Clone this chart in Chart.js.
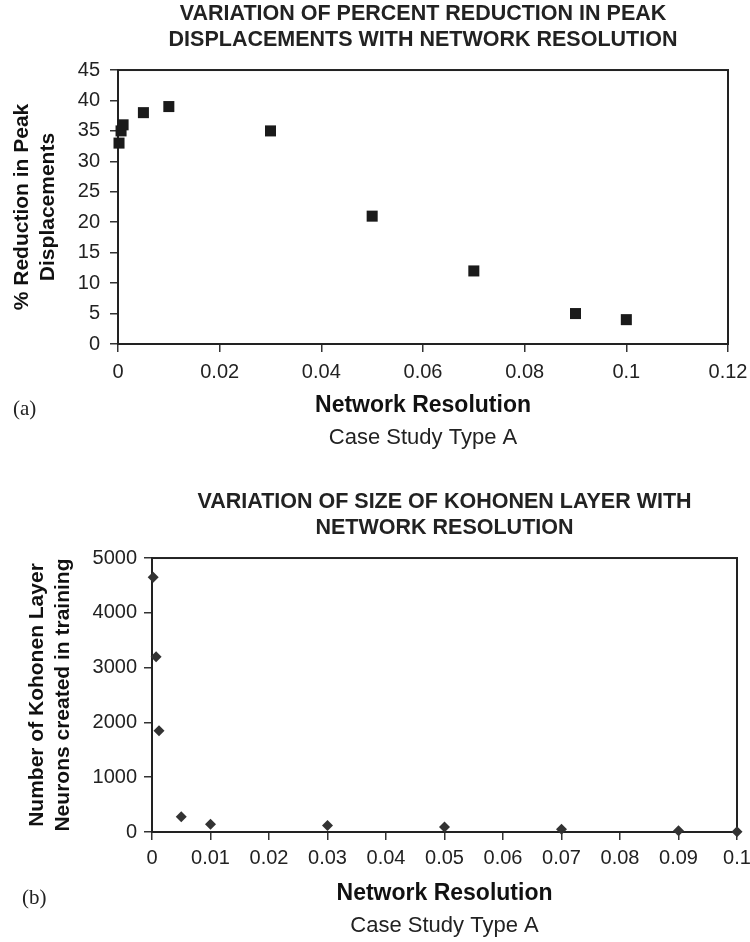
<!DOCTYPE html>
<html>
<head>
<meta charset="utf-8">
<script src="https://cdn.jsdelivr.net/npm/chart.js@4.4.1/dist/chart.umd.min.js"></script>
<style>
  body { margin: 0; background: #fff; width: 750px; height: 942px; position: relative; overflow: hidden; }
  canvas { position: absolute; left: 0; }
  .tag { position: absolute; font-family: 'Liberation Serif', serif; font-size: 21px; line-height: 24px; color: #222; }
</style>
</head>
<body>
<canvas id="chartA" width="750" height="470" style="top:0"></canvas>
<canvas id="chartB" width="750" height="472" style="top:470px"></canvas>
<div class="tag" style="left:13px;top:396px">(a)</div>
<div class="tag" style="left:22px;top:885px">(b)</div>
<script>
// (a) percent reduction vs network resolution
const resolutionA = [0.0002, 0.0006, 0.001, 0.005, 0.01, 0.03, 0.05, 0.07, 0.09, 0.1];
const reductionPct = [33, 35, 36, 38, 39, 35, 21, 12, 5, 4];
const xTicksA = [0, 0.02, 0.04, 0.06, 0.08, 0.1, 0.12];
const yTicksA = [0, 5, 10, 15, 20, 25, 30, 35, 40, 45];

// (b) kohonen layer size vs network resolution
const resolutionB = [0.0002, 0.0007, 0.0012, 0.005, 0.01, 0.03, 0.05, 0.07, 0.09, 0.1];
const kohonenNeurons = [4650, 3200, 1850, 280, 140, 120, 90, 50, 25, 5];
const xTicksB = [0, 0.01, 0.02, 0.03, 0.04, 0.05, 0.06, 0.07, 0.08, 0.09, 0.1];
const yTicksB = [0, 1000, 2000, 3000, 4000, 5000];

const FONT = "'Liberation Sans', Arial, sans-serif";
const INK = '#222';

// box around the plot area (top and right sides too)
const frame = {
  id: 'frame',
  beforeDatasetsDraw(chart) {
    const { ctx, chartArea: a } = chart;
    ctx.save();
    ctx.strokeStyle = INK;
    ctx.lineWidth = 2;
    ctx.strokeRect(a.left, a.top, a.right - a.left, a.bottom - a.top);
    ctx.restore();
  }
};

function buildChart(id, cfg) {
  const axisGrid = { drawOnChartArea: false, drawTicks: true, tickLength: 8, color: '#333', lineWidth: 1.5 };
  const axisBorder = { display: true, color: INK, width: 2 };
  return new Chart(document.getElementById(id), {
    type: 'scatter',
    data: {
      datasets: [{
        data: cfg.xs.map((x, i) => ({ x: x, y: cfg.ys[i] })),
        pointStyle: cfg.marker,
        pointRadius: cfg.radius,
        pointHoverRadius: cfg.radius,
        backgroundColor: cfg.color,
        borderColor: cfg.color,
        borderWidth: 0,
        clip: false
      }]
    },
    options: {
      responsive: false,
      animation: false,
      layout: { padding: { left: 0, right: cfg.padRight, top: 0, bottom: 0 } },
      plugins: {
        legend: { display: false },
        tooltip: { enabled: false },
        title: {
          display: true,
          text: cfg.title,
          fullSize: false,
          color: INK,
          font: { family: FONT, size: 21.5, weight: 'bold', lineHeight: 1.21 },
          padding: { top: cfg.titleTop, bottom: 17 }
        },
        subtitle: {
          display: true,
          position: 'bottom',
          text: 'Case Study Type A',
          fullSize: false,
          color: INK,
          font: { family: FONT, size: 22, lineHeight: 1.2 },
          padding: { top: 0, bottom: cfg.subBottom }
        }
      },
      scales: {
        x: {
          type: 'linear',
          min: 0,
          max: cfg.xTicks[cfg.xTicks.length - 1],
          afterBuildTicks: axis => { axis.ticks = cfg.xTicks.map(v => ({ value: v })); },
          afterFit: scale => {
            scale.height = 80.8;
            // let the end labels overhang instead of shrinking the plot
            scale.paddingLeft = 0;
            scale.paddingRight = 0;
          },
          ticks: {
            autoSkip: false, maxRotation: 0, padding: cfg.xTickPad, color: INK,
            font: { family: FONT, size: 20, lineHeight: 1.2 },
            callback: v => String(v)
          },
          grid: axisGrid,
          border: axisBorder,
          title: {
            display: true, text: 'Network Resolution', color: '#111',
            font: { family: FONT, size: 23, weight: 'bold', lineHeight: 1.2 },
            padding: { top: 0, bottom: 5 }
          }
        },
        y: {
          min: 0,
          max: cfg.yTicks[cfg.yTicks.length - 1],
          afterBuildTicks: axis => { axis.ticks = cfg.yTicks.map(v => ({ value: v })); },
          afterFit: scale => { scale.width = cfg.left; },
          ticks: {
            padding: cfg.yTickPad, color: INK,
            font: { family: FONT, size: 20, lineHeight: 1.2 },
            callback: v => String(v)
          },
          grid: axisGrid,
          border: axisBorder,
          title: {
            display: true, text: cfg.yTitle, color: '#111',
            font: { family: FONT, size: 21, weight: 'bold', lineHeight: 1.24 },
            padding: { top: cfg.yTitleTop, bottom: 0 }
          }
        }
      }
    },
    plugins: [frame]
  });
}

buildChart('chartA', {
  xs: resolutionA, ys: reductionPct, xTicks: xTicksA, yTicks: yTicksA,
  title: ['VARIATION OF PERCENT REDUCTION IN PEAK', 'DISPLACEMENTS WITH NETWORK RESOLUTION'],
  yTitle: ['% Reduction in Peak', 'Displacements'],
  marker: 'rect', radius: 7.8, color: '#1a1a1a',
  left: 118, padRight: 22, titleTop: 1, subBottom: 18.8,
  xTickPad: 8, yTickPad: 10, yTitleTop: 9
});

buildChart('chartB', {
  xs: resolutionB, ys: kohonenNeurons, xTicks: xTicksB, yTicks: yTicksB,
  title: ['VARIATION OF SIZE OF KOHONEN LAYER WITH', 'NETWORK RESOLUTION'],
  yTitle: ['Number of Kohonen Layer', 'Neurons created in training'],
  marker: 'rectRot', radius: 5.5, color: '#333',
  left: 152, padRight: 13, titleTop: 19, subBottom: 2.8,
  xTickPad: 6, yTickPad: 7, yTitleTop: 24
});
</script>
</body>
</html>
